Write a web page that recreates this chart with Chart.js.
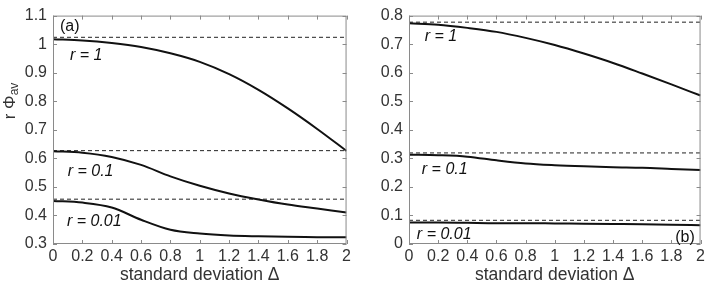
<!DOCTYPE html>
<html>
<head>
<meta charset="utf-8">
<script src="https://cdn.jsdelivr.net/npm/chart.js@4.4.0/dist/chart.umd.min.js"></script>
<style>
  html, body { margin: 0; padding: 0; background: #fff; }
  #wrap { position: relative; width: 708px; height: 290px; }
  canvas { position: absolute; top: 0; }
  #chartA { left: 0; }
  #chartB { left: 354px; }
</style>
</head>
<body>
<div id="wrap">
  <canvas id="chartA" width="354" height="290"></canvas>
  <canvas id="chartB" width="354" height="290"></canvas>
</div>
<script>
// standard deviation values where curves were read
const deltas = [0, 0.2, 0.4, 0.6, 0.8, 1.0, 1.2, 1.4, 1.6, 1.8, 2.0];
const xTicks = [0, 0.2, 0.4, 0.6, 0.8, 1.0, 1.2, 1.4, 1.6, 1.8, 2.0];
const xLabels = ['0', '0.2', '0.4', '0.6', '0.8', '1', '1.2', '1.4', '1.6', '1.8', '2'];

// panel (a)
const yTicksA = [0.3, 0.4, 0.5, 0.6, 0.7, 0.8, 0.9, 1.0, 1.1];
const yLabelsA = ['0.3', '0.4', '0.5', '0.6', '0.7', '0.8', '0.9', '1', '1.1'];
const a_r1   = [1.017, 1.013, 1.004, 0.990, 0.968, 0.938, 0.895, 0.840, 0.775, 0.703, 0.626];
const a_r01  = [0.625, 0.620, 0.605, 0.577, 0.537, 0.504, 0.477, 0.456, 0.438, 0.424, 0.410];
const a_r001 = [0.451, 0.445, 0.428, 0.385, 0.350, 0.337, 0.330, 0.327, 0.325, 0.324, 0.324];
const a_limits = [1.024, 0.627, 0.457];

// panel (b)
const yTicksB = [0, 0.1, 0.2, 0.3, 0.4, 0.5, 0.6, 0.7, 0.8];
const yLabelsB = ['0', '0.1', '0.2', '0.3', '0.4', '0.5', '0.6', '0.7', '0.8'];
const b_r1   = [0.773, 0.768, 0.757, 0.743, 0.722, 0.697, 0.667, 0.634, 0.597, 0.559, 0.520];
const b_r01  = [0.313, 0.311, 0.306, 0.293, 0.282, 0.276, 0.272, 0.269, 0.267, 0.263, 0.259];
const b_r001 = [0.075, 0.075, 0.074, 0.073, 0.073, 0.072, 0.071, 0.070, 0.069, 0.067, 0.066];
const b_limits = [0.777, 0.319, 0.083];

const FONT = '"Liberation Sans", Arial, Helvetica, sans-serif';
const FRAME = '#8a8a8a';

function curve(values) {
    return {
        data: values.map((v, i) => ({ x: deltas[i], y: v })),
        borderColor: '#111',
        borderWidth: 2,
        pointRadius: 0,
        cubicInterpolationMode: 'monotone',
        fill: false
    };
}

function limitLine(v) {
    return {
        data: [{ x: 0, y: v }, { x: 2, y: v }],
        borderColor: '#222',
        borderWidth: 1,
        borderDash: [4, 3],
        pointRadius: 0,
        fill: false
    };
}

// frame, inward ticks, panel texts and y title
const framePlugin = {
    id: 'frame',
    afterDatasetsDraw(chart, args, opts) {
        const ctx = chart.ctx;
        const a = chart.chartArea;
        const xs = chart.scales.x, ys = chart.scales.y;
        ctx.save();
        ctx.strokeStyle = FRAME;
        ctx.lineWidth = 1;
        ctx.strokeRect(a.left + 0.5, a.top + 0.5, a.right - a.left - 1, a.bottom - a.top - 1);
        ctx.beginPath();
        xs.ticks.forEach(t => {
            const px = Math.round(xs.getPixelForValue(t.value)) + 0.5;
            ctx.moveTo(px, a.bottom); ctx.lineTo(px, a.bottom - 4);
            ctx.moveTo(px, a.top); ctx.lineTo(px, a.top + 4);
        });
        ys.ticks.forEach(t => {
            const py = Math.round(ys.getPixelForValue(t.value)) + 0.5;
            ctx.moveTo(a.left, py); ctx.lineTo(a.left + 4, py);
            ctx.moveTo(a.right, py); ctx.lineTo(a.right - 4, py);
        });
        ctx.stroke();

        ctx.fillStyle = '#111';
        ctx.textBaseline = 'middle';
        (opts.labels || []).forEach(l => {
            ctx.font = (l.italic ? 'italic ' : '') + '16px ' + FONT;
            ctx.textAlign = l.align || 'left';
            ctx.fillText(l.text, xs.getPixelForValue(l.x), ys.getPixelForValue(l.y));
        });

        if (opts.yTitle) {
            ctx.translate(15, 101);
            ctx.rotate(-Math.PI / 2);
            ctx.fillStyle = '#333';
            ctx.textBaseline = 'alphabetic';
            ctx.textAlign = 'left';
            ctx.font = '17px ' + FONT;
            const main = 'r \u03A6';
            const w = ctx.measureText(main).width;
            ctx.font = '12px ' + FONT;
            const wsub = ctx.measureText('av').width;
            const start = -(w + wsub) / 2;
            ctx.font = '17px ' + FONT;
            ctx.fillText(main, start, 0);
            ctx.font = '12px ' + FONT;
            ctx.fillText('av', start + w, 3);
        }
        ctx.restore();
    }
};

function makeChart(id, series, limits, yTicks, yLabels, yMin, yMax, axisWidth, padRight, labels, yTitle) {
    const datasets = series.map(curve).concat(limits.map(limitLine));
    return new Chart(document.getElementById(id), {
        type: 'line',
        data: { datasets: datasets },
        options: {
            responsive: false,
            animation: false,
            layout: { padding: { top: 12, right: padRight, bottom: 0, left: 0 } },
            plugins: {
                legend: { display: false },
                tooltip: { enabled: false },
                frame: { labels: labels, yTitle: yTitle }
            },
            scales: {
                x: {
                    type: 'linear',
                    min: 0,
                    max: 2,
                    afterBuildTicks: s => { s.ticks = xTicks.map(v => ({ value: v })); },
                    afterFit: s => { s.height = 46; },
                    grid: { display: false, drawTicks: false },
                    border: { display: false },
                    ticks: {
                        padding: 3,
                        maxRotation: 0,
                        autoSkip: false,
                        color: '#333',
                        font: { family: FONT, size: 16 },
                        callback: (v, i) => xLabels[i]
                    },
                    title: {
                        display: true,
                        text: 'standard deviation \u0394',
                        color: '#333',
                        font: { family: FONT, size: 17.5 },
                        padding: { top: 0, bottom: 4 }
                    }
                },
                y: {
                    type: 'linear',
                    min: yMin,
                    max: yMax,
                    afterBuildTicks: s => { s.ticks = yTicks.map(v => ({ value: v })); },
                    afterFit: s => { s.width = axisWidth; },
                    grid: { display: false, drawTicks: false },
                    border: { display: false },
                    ticks: {
                        padding: 6,
                        autoSkip: false,
                        color: '#333',
                        font: { family: FONT, size: 16 },
                        callback: (v, i) => yLabels[i]
                    }
                }
            }
        },
        plugins: [framePlugin]
    });
}

makeChart('chartA', [a_r1, a_r01, a_r001], a_limits, yTicksA, yLabelsA, 0.3, 1.1, 53, 6, [
    { text: '(a)', x: 0.047, y: 1.062 },
    { text: 'r = 1', x: 0.115, y: 0.960, italic: true },
    { text: 'r = 0.1', x: 0.10, y: 0.555, italic: true },
    { text: 'r = 0.01', x: 0.095, y: 0.377, italic: true }
], true);

makeChart('chartB', [b_r1, b_r01, b_r001], b_limits, yTicksB, yLabelsB, 0, 0.8, 55, 4, [
    { text: 'r = 1', x: 0.108, y: 0.728, italic: true },
    { text: 'r = 0.1', x: 0.088, y: 0.262, italic: true },
    { text: 'r = 0.01', x: 0.054, y: 0.034, italic: true },
    { text: '(b)', x: 1.96, y: 0.024, align: 'right' }
], false);
</script>
</body>
</html>
